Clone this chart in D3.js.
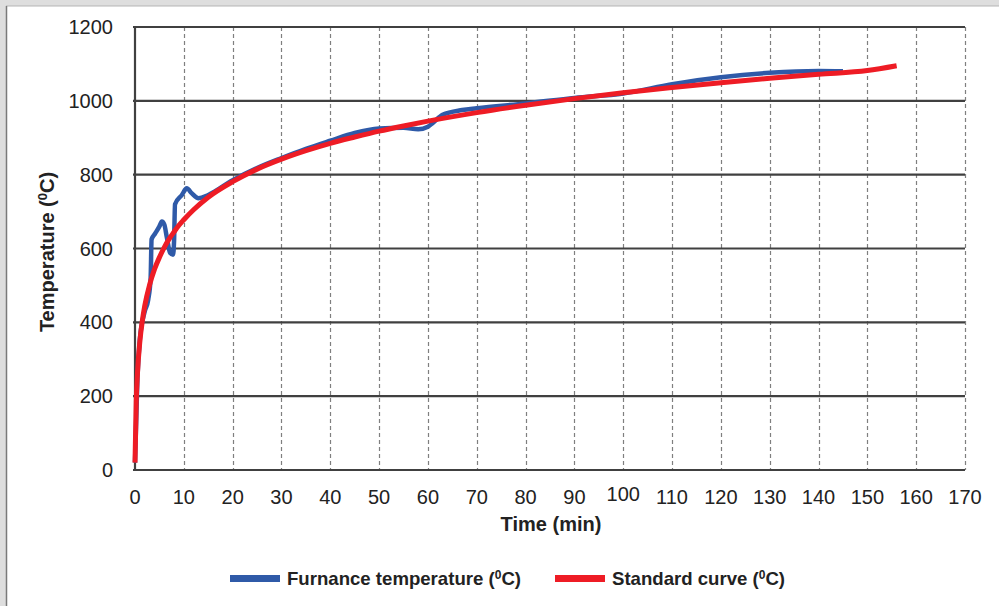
<!DOCTYPE html>
<html>
<head>
<meta charset="utf-8">
<script src="https://cdn.jsdelivr.net/npm/d3@7.9.0/dist/d3.min.js"></script>
<style>
  html, body { margin: 0; padding: 0; background: #fff; }
  svg { display: block; font-family: "Liberation Sans", Arial, sans-serif; }
</style>
</head>
<body>
<svg id="chart" width="999" height="606"></svg>
<script>
// furnace readings (min, degC)
const furnaceTime = [0, 0.5, 1, 2, 2.7, 3.2, 3.4, 4.1, 5, 5.5, 6, 6.5, 7.2, 7.8, 8.0, 8.2, 9.6, 10.6, 11.6, 13, 15, 20, 25, 30, 35, 40, 45, 50, 55, 58, 60, 61, 63, 67, 70, 80, 90, 100, 110, 120, 130, 140, 145];
const furnaceTemp = [20, 250, 355, 430, 461, 520, 625, 640, 660, 673, 665, 632, 588, 583, 620, 720, 745, 763, 750, 736, 745, 785, 818, 845, 870, 892, 913, 925, 927, 923, 930, 940, 962, 975, 980, 993, 1008, 1020, 1045, 1064, 1076, 1081, 1080];

// standard curve (min, degC)
const standardTime = [0, 0.25, 0.5, 1, 1.5, 2, 3, 4, 5, 6, 7, 8, 9, 10, 12, 15, 20, 25, 30, 35, 40, 45, 50, 55, 60, 70, 80, 90, 100, 110, 120, 130, 140, 150, 156];
const standardTemp = [20, 185, 261, 349, 404, 445, 502, 544, 576, 603, 626, 645, 663, 678, 705, 739, 781, 815, 842, 865, 885, 902, 918, 932, 945, 968, 988, 1006, 1022, 1036, 1049, 1061, 1072, 1082, 1095];

const xTicks = d3.range(0, 171, 10);
const yTicks = [0, 200, 400, 600, 800, 1000, 1200];
const seriesNames = ["Furnance temperature", "Standard curve"];
const seriesColors = ["#2f5aa8", "#ee1c25"];

const svg = d3.select("#chart");

// frame of the picture
svg.append("rect").attr("x", 0).attr("y", 0).attr("width", 999).attr("height", 6).attr("fill", "#dedede");
svg.append("rect").attr("x", 0).attr("y", 0).attr("width", 6).attr("height", 606).attr("fill", "#dedede");
svg.append("line").attr("x1", 6).attr("x2", 999).attr("y1", 6).attr("y2", 6).attr("stroke", "#b5b5b5").attr("stroke-width", 1);
svg.append("line").attr("x1", 6.5).attr("x2", 6.5).attr("y1", 6).attr("y2", 606).attr("stroke", "#7a7a7a").attr("stroke-width", 1.5);

const x = d3.scaleLinear().domain([0, 170]).range([135, 965]);
const y = d3.scaleLinear().domain([0, 1200]).range([470, 27]);

// vertical dashed grid
svg.append("g")
  .selectAll("line")
  .data(xTicks.filter(d => d > 0))
  .join("line")
  .attr("x1", d => Math.round(x(d)) + 0.5)
  .attr("x2", d => Math.round(x(d)) + 0.5)
  .attr("y1", y(1200))
  .attr("y2", y(0))
  .attr("stroke", "#7f7f7f")
  .attr("stroke-width", 1.2)
  .attr("stroke-dasharray", "4,3");

// horizontal solid grid
svg.append("g")
  .selectAll("line")
  .data(yTicks)
  .join("line")
  .attr("x1", x(0) - 2)
  .attr("x2", x(170))
  .attr("y1", d => y(d))
  .attr("y2", d => y(d))
  .attr("stroke", "#404040")
  .attr("stroke-width", 2.2);

// y axis line
svg.append("line")
  .attr("x1", x(0)).attr("x2", x(0))
  .attr("y1", y(1200) - 1).attr("y2", y(0) + 1)
  .attr("stroke", "#404040").attr("stroke-width", 2.2);

// tick labels
svg.append("g")
  .selectAll("text")
  .data(yTicks)
  .join("text")
  .attr("x", 113)
  .attr("y", d => y(d) + 7)
  .attr("text-anchor", "end")
  .attr("font-size", 20)
  .attr("fill", "#222")
  .text(d => d);

svg.append("g")
  .selectAll("text")
  .data(xTicks)
  .join("text")
  .attr("x", d => x(d))
  .attr("y", d => d === 100 ? 501 : 504)
  .attr("text-anchor", "middle")
  .attr("font-size", 20)
  .attr("fill", "#222")
  .text(d => d);

// axis titles
svg.append("text")
  .attr("x", 551).attr("y", 531)
  .attr("text-anchor", "middle")
  .attr("font-size", 20).attr("font-weight", "bold").attr("fill", "#222")
  .text("Time (min)");

const yt = svg.append("text")
  .attr("transform", "translate(54,252) rotate(-90)")
  .attr("text-anchor", "middle")
  .attr("font-size", 20).attr("font-weight", "bold").attr("fill", "#222");
yt.append("tspan").text("Temperature (");
yt.append("tspan").attr("font-size", 13).attr("dy", -7).text("0");
yt.append("tspan").attr("dy", 7).text("C)");

// lines
const line = d3.line()
  .x(d => x(d[0]))
  .y(d => y(d[1]))
  .curve(d3.curveMonotoneX);

const furnace = furnaceTime.map((t, i) => [t, furnaceTemp[i]]);
const standard = standardTime.map((t, i) => [t, standardTemp[i]]);

svg.append("path")
  .datum(furnace)
  .attr("d", line)
  .attr("fill", "none")
  .attr("stroke", seriesColors[0])
  .attr("stroke-width", 4.5)
  .attr("stroke-linejoin", "round");

svg.append("path")
  .datum(standard)
  .attr("d", line)
  .attr("fill", "none")
  .attr("stroke", seriesColors[1])
  .attr("stroke-width", 5);

// legend
const legendX = [230, 555];
const legend = svg.append("g");
seriesNames.forEach((name, i) => {
  legend.append("rect")
    .attr("x", legendX[i]).attr("y", 575)
    .attr("width", 50).attr("height", 7)
    .attr("fill", seriesColors[i]);
  const t = legend.append("text")
    .attr("x", legendX[i] + 57).attr("y", 585)
    .attr("font-size", 18.6).attr("font-weight", "bold").attr("fill", "#222");
  t.append("tspan").text(name + " (");
  t.append("tspan").attr("font-size", 12).attr("dy", -6).text("0");
  t.append("tspan").attr("dy", 6).text("C)");
});
</script>
</body>
</html>
